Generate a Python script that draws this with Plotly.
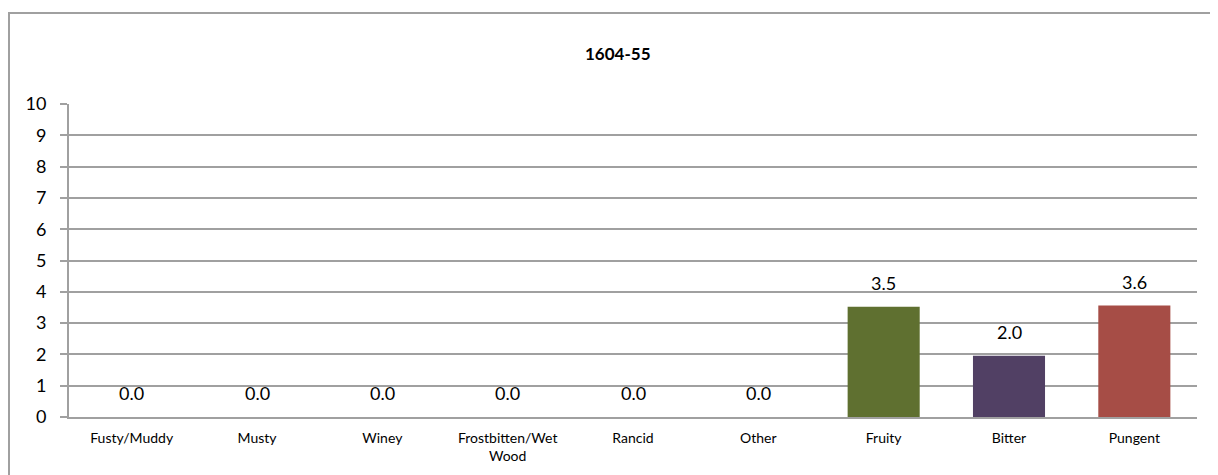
import plotly.graph_objects as go

categories = ["Fusty/Muddy", "Musty", "Winey", "Frostbitten/Wet<br>Wood", "Rancid",
              "Other", "Fruity", "Bitter", "Pungent"]
values = [0.0, 0.0, 0.0, 0.0, 0.0, 0.0, 3.52, 1.96, 3.56]
bar_colors = ["#4F81BD", "#C0504D", "#9BBB59", "#8064A2", "#4BACC6",
              "#F79646", "#5F7030", "#514064", "#A64D46"]
title_text = "1604-55"

OFF = 8  # default page body margin
W, H = 1218 - OFF, 475 - OFF
L, R, T, B = 69 - OFF, 1197 - OFF, 104 - OFF, 417 - OFF

fig = go.Figure()
fig.add_trace(go.Bar(
    x=categories, y=values,
    marker=dict(color=bar_colors, line=dict(width=0)),
    hoverinfo="skip",
))

annotations = []
for c, v in zip(categories, values):
    annotations.append(dict(
        x=c, y=v, xref="x", yref="y", text=f"{v:.1f}", showarrow=False,
        yshift=24, font=dict(family="Lato", size=18, color="#000000"),
    ))

annotations.append(dict(
    x=(618 - OFF - L) / (R - L), y=(B - (53 - OFF)) / (B - T), xref="paper", yref="paper",
    text=f"<b>{title_text}</b>", showarrow=False,
    font=dict(family="Lato", size=17, color="#000000"),
    xanchor="center", yanchor="middle",
))

fig.update_layout(
    width=W, height=H,
    margin=dict(l=L, r=W - R, t=T, b=H - B, pad=0),
    paper_bgcolor="white", plot_bgcolor="white",
    showlegend=False,
    bargap=0.425,
    annotations=annotations,
    shapes=[dict(
        type="rect", xref="paper", yref="paper",
        x0=(9 - OFF - L) / (R - L), x1=1.1,
        y0=-0.5, y1=(B - (13 - OFF)) / (B - T),
        line=dict(color="#A0A0A0", width=2), fillcolor="rgba(0,0,0,0)",
        layer="below",
    )],
)

fig.update_xaxes(
    showgrid=False, ticks="", showline=True, linecolor="#A0A0A0", linewidth=2,
    ticklabelstandoff=7,
    tickfont=dict(family="Lato", size=14, color="#000000"),
    fixedrange=True,
)
fig.update_yaxes(
    range=[0, 10], dtick=1, tick0=0,
    showgrid=True, gridcolor="#A0A0A0", gridwidth=2,
    showline=True, linecolor="#A0A0A0", linewidth=2,
    ticks="outside", ticklen=7, tickcolor="#A0A0A0", tickwidth=2,
    ticklabelstandoff=10,
    tickfont=dict(family="Lato", size=18, color="#000000"),
    zeroline=False, fixedrange=True,
)

fig.write_html("out.html")
